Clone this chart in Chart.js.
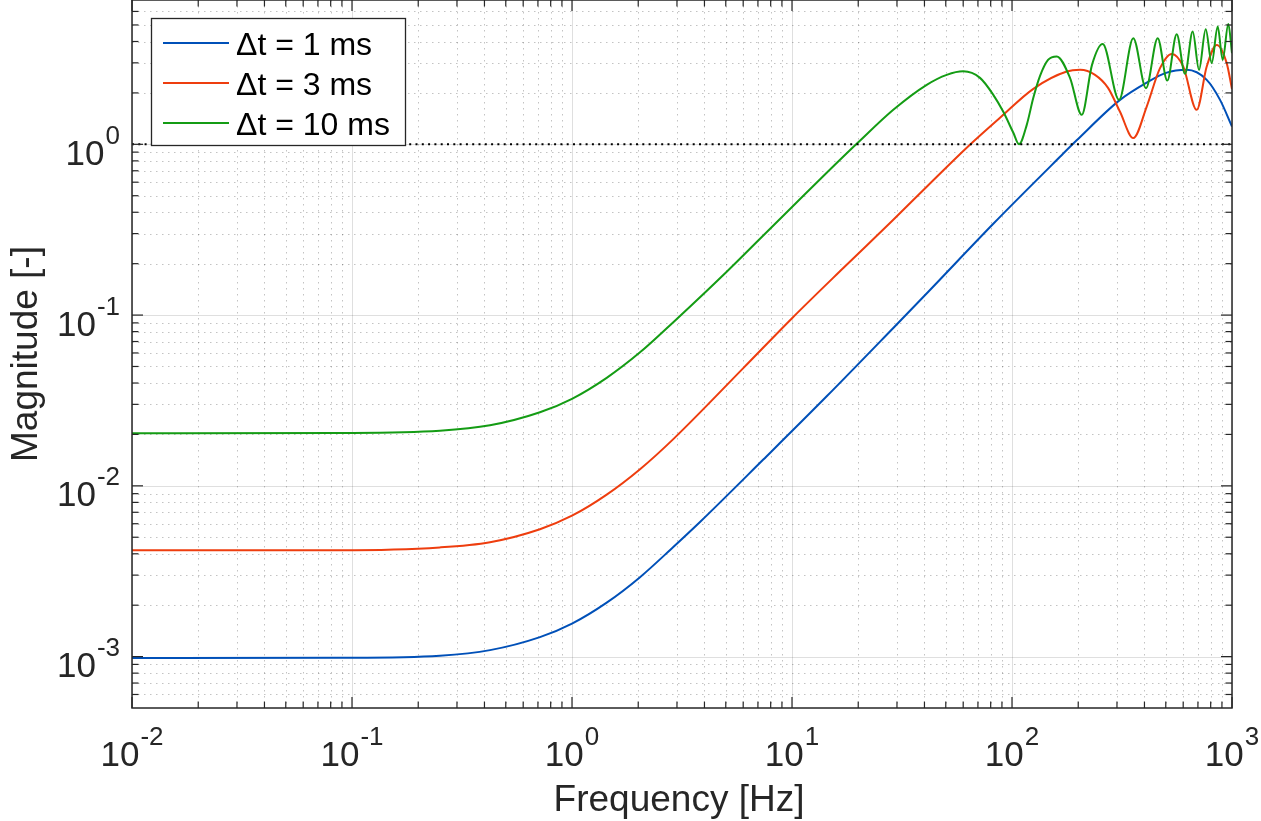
<!DOCTYPE html>
<html>
<head>
<meta charset="utf-8">
<script src="https://cdn.jsdelivr.net/npm/chart.js@4.4.1/dist/chart.umd.min.js"></script>
<style>
  body { margin: 0; background: #fff; }
  #wrap { width: 1261px; height: 821px; }
</style>
</head>
<body>
<div id="wrap"><canvas id="chart" width="1261" height="821"></canvas></div>
<script>
// values (frequency in Hz, magnitude in -)
var freq1ms = [0.01, 0.0882, 0.251, 0.424, 0.715, 1, 1.438, 2.038, 2.887, 3.818, 7.405, 14.38, 28.87, 41.65,
               82.22, 165.3, 196.8, 309.7, 409.6, 501.2, 622.5, 767.4, 882.3, 1000];
var mag1ms = [0.00098, 0.000985, 0.001013, 0.001091, 0.0013, 0.00156, 0.00207, 0.002918, 0.004383, 0.00614,
              0.01425, 0.03344, 0.08405, 0.137, 0.3426, 0.845, 1.055, 1.821, 2.299, 2.62, 2.729, 2.385, 1.821, 1.271];

var freq3ms = [0.01, 0.0882, 0.251, 0.424, 0.715, 1, 1.438, 2.038, 2.887, 6.006, 10.03, 17.11, 28.87, 40.96,
               63.3, 88.2, 125.0, 177.3, 203.8, 238.4, 273.2, 309.7, 355.9, 409.6, 470.8, 531.9, 600.6, 691.1,
               767.4, 852.0, 946.0, 1000];
var mag3ms = [0.0042, 0.0042, 0.00436, 0.004677, 0.005572, 0.006683, 0.00888, 0.01251, 0.01878, 0.04889,
              0.09616, 0.1886, 0.3616, 0.564, 0.9734, 1.429, 2.112, 2.667, 2.729, 2.551, 2.141, 1.55, 1.087, 1.664,
              2.792, 3.385, 2.853, 1.592, 2.853, 3.821, 2.987, 2.104];

var freq10ms = [0.01, 0.0882, 0.251, 0.424, 0.715, 1, 1.438, 2.038, 2.887, 5.049, 7.153, 10.03, 14.38, 20.01, 28.87,
                40.96, 50.49, 60.06, 71.53, 82.22, 91.3, 101.4, 107.6, 116.7, 125.0, 134.1, 145.8, 159.7, 183.5,
                207.5, 231.0, 258.4, 306.5, 355.9, 406.5, 459.5, 508.0, 560.6, 611.5, 662.8, 707.9, 759.5, 808.6,
                861.0, 907.1, 962.0, 1000];
var mag10ms = [0.0203, 0.0204, 0.02101, 0.02262, 0.02696, 0.03233, 0.0429, 0.06049, 0.09088, 0.1795, 0.2799, 0.4308,
               0.6811, 1.027, 1.592, 2.229, 2.551, 2.674, 2.449, 1.949, 1.55, 1.168, 1.0, 1.3, 1.871, 2.516, 3.122,
               3.273, 2.449, 1.488, 2.919, 3.873, 1.821, 4.182, 2.132, 4.182, 2.362, 4.414, 2.586, 4.571, 2.729,
               4.722, 2.987, 4.89, 3.122, 5.071, 3.418];

var seriesLabels = ['\u0394t = 1 ms', '\u0394t = 3 ms', '\u0394t = 10 ms'];
var seriesColors = ['#0050b8', '#ee3d0e', '#149c14'];

var refFreq = [0.01, 1000];
var refMag = [1, 1];

var xTickExps = [-2, -1, 0, 1, 2, 3];
var yTickExps = [-3, -2, -1, 0];
var xTitle = 'Frequency [Hz]';
var yTitle = 'Magnitude [-]';

var axisColor = '#262626';
var fontName = "'Liberation Sans', Arial, Helvetica, sans-serif";

function toPoints(xs, ys) {
    return xs.map(function(x, i) { return { x: x, y: ys[i] }; });
}

// minor positions 2..9 x 10^n inside the scale range
function minorValues(scale) {
    var out = [];
    var e0 = Math.floor(Math.log10(scale.min)), e1 = Math.ceil(Math.log10(scale.max));
    for (var e = e0; e <= e1; e++) {
        for (var k = 2; k <= 9; k++) {
            var v = k * Math.pow(10, e);
            if (v > scale.min * 1.0001 && v < scale.max * 0.9999) out.push(v);
        }
    }
    return out;
}

function majorValues(scale) {
    var out = [];
    var e0 = Math.floor(Math.log10(scale.min)), e1 = Math.ceil(Math.log10(scale.max));
    for (var e = e0; e <= e1; e++) {
        var v = Math.pow(10, e);
        if (v >= scale.min * 0.9999 && v <= scale.max * 1.0001) out.push(v);
    }
    return out;
}

function seg(ctx, x1, y1, x2, y2) {
    ctx.beginPath();
    ctx.moveTo(x1, y1);
    ctx.lineTo(x2, y2);
    ctx.stroke();
}

// "10" with a raised exponent, like the MATLAB tick labels
function drawPower(ctx, exp, x, yBase, align) {
    var base = '10', sup = String(exp);
    ctx.font = '35px ' + fontName;
    var wb = ctx.measureText(base).width;
    ctx.font = '26px ' + fontName;
    var ws = ctx.measureText(sup).width;
    var left = align === 'center' ? x - (wb + ws + 1) / 2 : x - wb - ws - 1;
    ctx.textAlign = 'left';
    ctx.textBaseline = 'alphabetic';
    ctx.font = '35px ' + fontName;
    ctx.fillText(base, left, yBase);
    ctx.font = '26px ' + fontName;
    ctx.fillText(sup, left + wb + 1, yBase - 21);
}

var gridPlugin = {
    id: 'gridPlugin',
    beforeDatasetsDraw: function(chart) {
        var ctx = chart.ctx, a = chart.chartArea;
        var xs = chart.scales.x, ys = chart.scales.y;
        ctx.save();
        ctx.lineWidth = 1;

        // minor grid, dotted
        ctx.strokeStyle = 'rgba(38,38,38,0.28)';
        ctx.setLineDash([1.5, 4.5]);
        minorValues(xs).forEach(function(v) {
            var px = Math.round(xs.getPixelForValue(v)) + 0.5;
            seg(ctx, px, a.top, px, a.bottom);
        });
        minorValues(ys).forEach(function(v) {
            var py = Math.round(ys.getPixelForValue(v)) + 0.5;
            seg(ctx, a.left, py, a.right, py);
        });

        // major grid, solid
        ctx.setLineDash([]);
        ctx.strokeStyle = 'rgba(38,38,38,0.15)';
        majorValues(xs).forEach(function(v) {
            var px = Math.round(xs.getPixelForValue(v)) + 0.5;
            seg(ctx, px, a.top, px, a.bottom);
        });
        majorValues(ys).forEach(function(v) {
            var py = Math.round(ys.getPixelForValue(v)) + 0.5;
            seg(ctx, a.left, py, a.right, py);
        });
        ctx.restore();
    },

    afterDatasetsDraw: function(chart) {
        var ctx = chart.ctx, a = chart.chartArea;
        var xs = chart.scales.x, ys = chart.scales.y;
        ctx.save();

        // axes box and inward ticks on all sides
        ctx.strokeStyle = axisColor;
        ctx.lineWidth = 1.5;
        ctx.strokeRect(a.left, a.top, a.right - a.left, a.bottom - a.top);

        var majLen = 11, minLen = 6.5;
        function xTick(v, len) {
            var px = xs.getPixelForValue(v);
            seg(ctx, px, a.bottom, px, a.bottom - len);
            seg(ctx, px, a.top, px, a.top + len);
        }
        function yTick(v, len) {
            var py = ys.getPixelForValue(v);
            seg(ctx, a.left, py, a.left + len, py);
            seg(ctx, a.right, py, a.right - len, py);
        }
        ctx.lineWidth = 1.2;
        minorValues(xs).forEach(function(v) { xTick(v, minLen); });
        majorValues(xs).forEach(function(v) { xTick(v, majLen); });
        minorValues(ys).forEach(function(v) { yTick(v, minLen); });
        majorValues(ys).forEach(function(v) { yTick(v, majLen); });

        // tick labels
        ctx.fillStyle = axisColor;
        xTickExps.forEach(function(e) {
            drawPower(ctx, e, xs.getPixelForValue(Math.pow(10, e)), 766, 'center');
        });
        yTickExps.forEach(function(e) {
            var py = ys.getPixelForValue(Math.pow(10, e));
            drawPower(ctx, e, 120, py + 20.5, 'right');
        });

        // axis titles
        ctx.font = '37px ' + fontName;
        ctx.textAlign = 'center';
        ctx.textBaseline = 'alphabetic';
        ctx.fillText(xTitle, 679, 811);
        ctx.save();
        ctx.translate(37, (a.top + a.bottom) / 2);
        ctx.rotate(-Math.PI / 2);
        ctx.fillText(yTitle, 0, 0);
        ctx.restore();

        // legend box
        var bx = 151.5, by = 18.5, bw = 254, bh = 127;
        ctx.fillStyle = '#ffffff';
        ctx.fillRect(bx, by, bw, bh);
        ctx.strokeStyle = axisColor;
        ctx.lineWidth = 1.3;
        ctx.strokeRect(bx, by, bw, bh);
        ctx.font = '32px ' + fontName;
        ctx.textAlign = 'left';
        for (var i = 0; i < 3; i++) {
            var ds = chart.data.datasets[i];
            var ry = 43 + i * 40;
            ctx.strokeStyle = ds.borderColor;
            ctx.lineWidth = 2;
            seg(ctx, 163, ry, 229, ry);
            ctx.fillStyle = '#000000';
            ctx.fillText(ds.label, 236, ry + 12);
        }
        ctx.restore();
    }
};

var datasets = [
    { label: seriesLabels[0], data: toPoints(freq1ms, mag1ms), borderColor: seriesColors[0], order: 3 },
    { label: seriesLabels[1], data: toPoints(freq3ms, mag3ms), borderColor: seriesColors[1], order: 2 },
    { label: seriesLabels[2], data: toPoints(freq10ms, mag10ms), borderColor: seriesColors[2], order: 1 },
    { label: 'ref', data: toPoints(refFreq, refMag), borderColor: '#000000', borderWidth: 2,
      borderDash: [2, 4.3], order: 0, cubicInterpolationMode: 'default', tension: 0 }
];
datasets.forEach(function(d) {
    d.fill = false;
    d.pointRadius = 0;
    if (d.borderWidth === undefined) d.borderWidth = 2;
    if (d.cubicInterpolationMode === undefined) d.cubicInterpolationMode = 'monotone';
});

var chart = new Chart(document.getElementById('chart'), {
    type: 'line',
    data: { datasets: datasets },
    options: {
        responsive: false,
        animation: false,
        layout: { padding: { left: 132, right: 29, top: 0, bottom: 113 } },
        plugins: { legend: { display: false }, tooltip: { enabled: false } },
        scales: {
            x: { type: 'logarithmic', min: 0.01, max: 1000, display: false },
            y: { type: 'logarithmic', min: 5e-4, max: 7, display: false }
        }
    },
    plugins: [gridPlugin]
});
</script>
</body>
</html>
